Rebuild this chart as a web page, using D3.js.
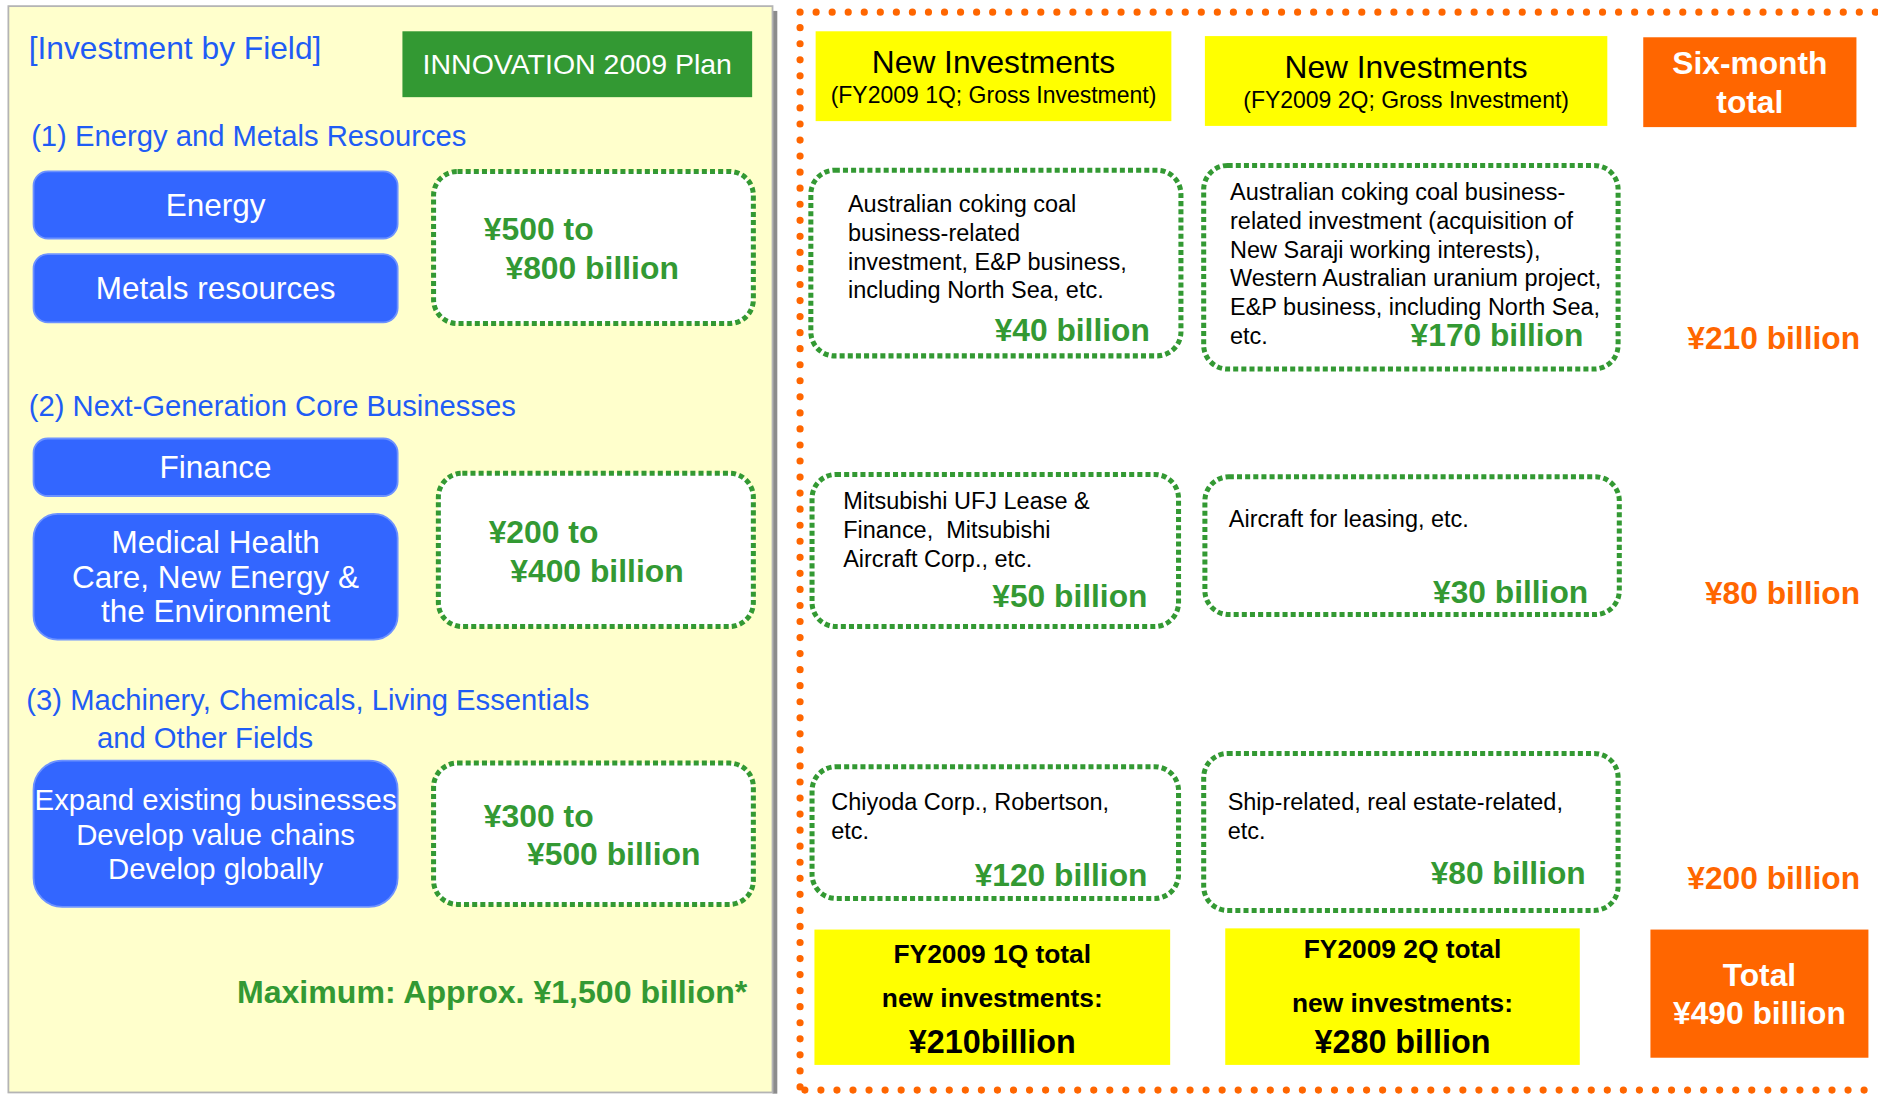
<!DOCTYPE html>
<html>
<head>
<meta charset="utf-8">
<script src="https://d3js.org/d3.v7.min.js"></script>
<style>
  body { margin: 0; background: #ffffff; }
  svg { display: block; }
  text { font-family: "Liberation Sans", Arial, sans-serif; white-space: pre; }
</style>
</head>
<body>
<div id="chart"></div>
<script>
// ---- data ----
var planTitle = "INNOVATION 2009 Plan"
var fieldTitles = [
  ["(1) Energy and Metals Resources"],
  ["(2) Next-Generation Core Businesses"],
  ["(3) Machinery, Chemicals, Living Essentials", "and Other Fields"]
]
var fieldSegments = [
  [["Energy"], ["Metals resources"]],
  [["Finance"], ["Medical Health", "Care, New Energy &", "the Environment"]],
  [["Expand existing businesses", "Develop value chains", "Develop globally"]]
]
var planLow = [500, 200, 300]       // ¥ billion
var planHigh = [800, 400, 500]      // ¥ billion
var planMax = "1,500"

var quarters = ["FY2009 1Q", "FY2009 2Q"]
var q1Items = [
  ["Australian coking coal", "business-related", "investment, E&P business,", "including North Sea, etc."],
  ["Mitsubishi UFJ Lease &", "Finance,  Mitsubishi", "Aircraft Corp., etc."],
  ["Chiyoda Corp., Robertson,", "etc."]
]
var q2Items = [
  ["Australian coking coal business-", "related investment (acquisition of", "New Saraji working interests),", "Western Australian uranium project,", "E&P business, including North Sea,", "etc."],
  ["Aircraft for leasing, etc."],
  ["Ship-related, real estate-related,", "etc."]
]
var q1Amounts = [40, 50, 120]
var q2Amounts = [170, 30, 80]
var sixMonthTotals = [210, 80, 200]
var quarterTotals = [210, 280]
var grandTotal = 490

// ---- colours ----
var blueText = "#1f5cf5"
var blueFill = "#3366ff"
var green = "#339933"
var orange = "#ff6600"
var yellow = "#ffff00"

// slide units -> screen pixels
var W = 1878, H = 1095
var sx = d3.scaleLinear().domain([0, 1568]).range([0, W])

var svg = d3.select("#chart").append("svg")
  .attr("width", W).attr("height", H)
  .attr("viewBox", "0 0 1568 914")

function lines(g, arr, x, y, step, opts) {
  var t = g.append("text")
    .attr("x", x).attr("y", y)
    .attr("font-size", opts.size)
    .attr("font-weight", opts.bold ? "bold" : "normal")
    .attr("fill", opts.fill)
    .attr("text-anchor", opts.anchor || "start")
  arr.forEach((s, i) => {
    var sp = t.append("tspan").attr("x", x).text(s)
    if (i > 0) sp.attr("dy", step)
  })
  return t
}

function dottedBox(g, b) {
  g.append("rect")
    .attr("x", b.x).attr("y", b.y).attr("width", b.w).attr("height", b.h)
    .attr("rx", 20).attr("fill", "#ffffff")
    .attr("stroke", green).attr("stroke-width", 4.2)
    .attr("stroke-dasharray", "4.2 2.6")
}

// ================= left panel =================
var left = svg.append("g")
left.append("rect").attr("x", 645).attr("y", 9).attr("width", 4).attr("height", 904).attr("fill", "#8c8c8c")
left.append("rect").attr("x", 7).attr("y", 5).attr("width", 638).attr("height", 907)
  .attr("fill", "#ffffcc").attr("stroke", "#b4b4b4").attr("stroke-width", 1.5)

lines(left, ["[Investment by Field]"], 24, 49, 0, { size: 26.5, fill: blueText })

left.append("rect").attr("x", 336).attr("y", 26).attr("width", 292).attr("height", 55).attr("fill", green)
lines(left, [planTitle], 482, 62, 0, { size: 23.8, fill: "#ffffff", anchor: "middle" })

// layout of the three field blocks
var fieldLayout = [
  { titleY: 122, titleX: [26], seg: [{ y: 143, h: 56, rx: 12 }, { y: 212, h: 57, rx: 12 }], box: { x: 362, y: 143, w: 267, h: 127 }, lowX: 404, lowY: 200, highX: 422, highY: 233 },
  { titleY: 347, titleX: [24], seg: [{ y: 366, h: 48, rx: 12 }, { y: 429, h: 105, rx: 20 }], box: { x: 366, y: 395, w: 263, h: 128 }, lowX: 408, lowY: 453, highX: 426, highY: 486 },
  { titleY: 593, titleX: [22, 81], seg: [{ y: 635, h: 122, rx: 24 }], box: { x: 362, y: 637, w: 267, h: 118 }, lowX: 404, lowY: 690, highX: 440, highY: 722 }
]

fieldTitles.forEach((title, i) => {
  var L = fieldLayout[i]
  title.forEach((s, j) => {
    lines(left, [s], L.titleX[j], L.titleY + j * 31, 0, { size: 24.4, fill: blueText })
  })
  fieldSegments[i].forEach((seg, j) => {
    var s = L.seg[j]
    left.append("rect").attr("x", 28).attr("y", s.y).attr("width", 304).attr("height", s.h)
      .attr("rx", s.rx).attr("fill", blueFill).attr("stroke", "#6d92ff").attr("stroke-width", 1.5)
    var step = 29
    var y0 = s.y + s.h / 2 - (seg.length - 1) * step / 2 + 9
    var fs = seg[0].length > 20 ? 24.5 : 26.3
    lines(left, seg, 180, y0, step, { size: fs, fill: "#ffffff", anchor: "middle" })
  })
  dottedBox(left, L.box)
  lines(left, ["¥" + planLow[i] + " to"], L.lowX, L.lowY, 0, { size: 26.6, bold: true, fill: green })
  lines(left, ["¥" + planHigh[i] + " billion"], L.highX, L.highY, 0, { size: 26.6, bold: true, fill: green })
})

lines(left, ["Maximum: Approx. ¥" + planMax + " billion*"], 624, 837, 0, { size: 26.8, bold: true, fill: green, anchor: "end" })

// ================= right panel =================
var right = svg.append("g")

// orange dotted frame
var dot = { stroke: orange, "stroke-width": 6, "stroke-linecap": "round", "stroke-dasharray": "0 13.4", fill: "none" }
function dotted(path) {
  var p = right.append("path").attr("d", path)
  Object.keys(dot).forEach(k => p.attr(k, dot[k]))
}
dotted("M668,10 L1568,10")
dotted("M668,23 L668,912")
dotted("M672,910 L1568,910")

// column headers
var headers = [
  { x: 681, y: 26, w: 297, h: 75 },
  { x: 1006, y: 30, w: 336, h: 75 }
]
quarters.forEach((q, i) => {
  var h = headers[i]
  right.append("rect").attr("x", h.x).attr("y", h.y).attr("width", h.w).attr("height", h.h).attr("fill", yellow)
  lines(right, ["New Investments"], h.x + h.w / 2, h.y + 35, 0, { size: 26.5, fill: "#000000", anchor: "middle" })
  lines(right, ["(" + q + "; Gross Investment)"], h.x + h.w / 2, h.y + 60, 0, { size: 19.2, fill: "#000000", anchor: "middle" })
})
right.append("rect").attr("x", 1372).attr("y", 31).attr("width", 178).attr("height", 75).attr("fill", orange)
lines(right, ["Six-month", "total"], 1461, 62, 32, { size: 26.5, bold: true, fill: "#ffffff", anchor: "middle" })

// item boxes per row
var q1Layout = [
  { box: { x: 677, y: 142, w: 309, h: 155 }, tx: 708, ty: 177, ax: 960, ay: 285 },
  { box: { x: 678, y: 396, w: 306, h: 127 }, tx: 704, ty: 425, ax: 958, ay: 507 },
  { box: { x: 678, y: 640, w: 306, h: 110 }, tx: 694, ty: 676, ax: 958, ay: 740 }
]
var q2Layout = [
  { box: { x: 1005, y: 138, w: 346, h: 170 }, tx: 1027, ty: 167, ax: 1322, ay: 289 },
  { box: { x: 1006, y: 398, w: 346, h: 115 }, tx: 1026, ty: 440, ax: 1326, ay: 503 },
  { box: { x: 1005, y: 629, w: 346, h: 131 }, tx: 1025, ty: 676, ax: 1324, ay: 738 }
]
var sixMonthY = [291, 504, 742]

function itemCell(items, amount, L) {
  dottedBox(right, L.box)
  lines(right, items, L.tx, L.ty, 24, { size: 19.6, fill: "#000000" })
  lines(right, ["¥" + amount + " billion"], L.ax, L.ay, 0, { size: 26.5, bold: true, fill: green, anchor: "end" })
}
q1Items.forEach((items, i) => itemCell(items, q1Amounts[i], q1Layout[i]))
q2Items.forEach((items, i) => itemCell(items, q2Amounts[i], q2Layout[i]))
sixMonthTotals.forEach((v, i) => {
  lines(right, ["¥" + v + " billion"], 1553, sixMonthY[i], 0, { size: 26.5, bold: true, fill: orange, anchor: "end" })
})

// quarter totals
var totalLayout = [
  { x: 680, y: 776, w: 297, h: 113, ys: [804, 841, 879], sep: "" },
  { x: 1023, y: 775, w: 296, h: 114, ys: [800, 845, 879], sep: " " }
]
quarters.forEach((q, i) => {
  var L = totalLayout[i]
  right.append("rect").attr("x", L.x).attr("y", L.y).attr("width", L.w).attr("height", L.h).attr("fill", yellow)
  var cx = L.x + L.w / 2
  lines(right, [q + " total"], cx, L.ys[0], 0, { size: 22, bold: true, fill: "#000000", anchor: "middle" })
  lines(right, ["new investments:"], cx, L.ys[1], 0, { size: 22, bold: true, fill: "#000000", anchor: "middle" })
  lines(right, ["¥" + quarterTotals[i] + L.sep + "billion"], cx, L.ys[2], 0, { size: 27, bold: true, fill: "#000000", anchor: "middle" })
})
right.append("rect").attr("x", 1378).attr("y", 776).attr("width", 182).attr("height", 107).attr("fill", orange)
lines(right, ["Total", "¥" + grandTotal + " billion"], 1469, 823, 32, { size: 26.5, bold: true, fill: "#ffffff", anchor: "middle" })
</script>
</body>
</html>
